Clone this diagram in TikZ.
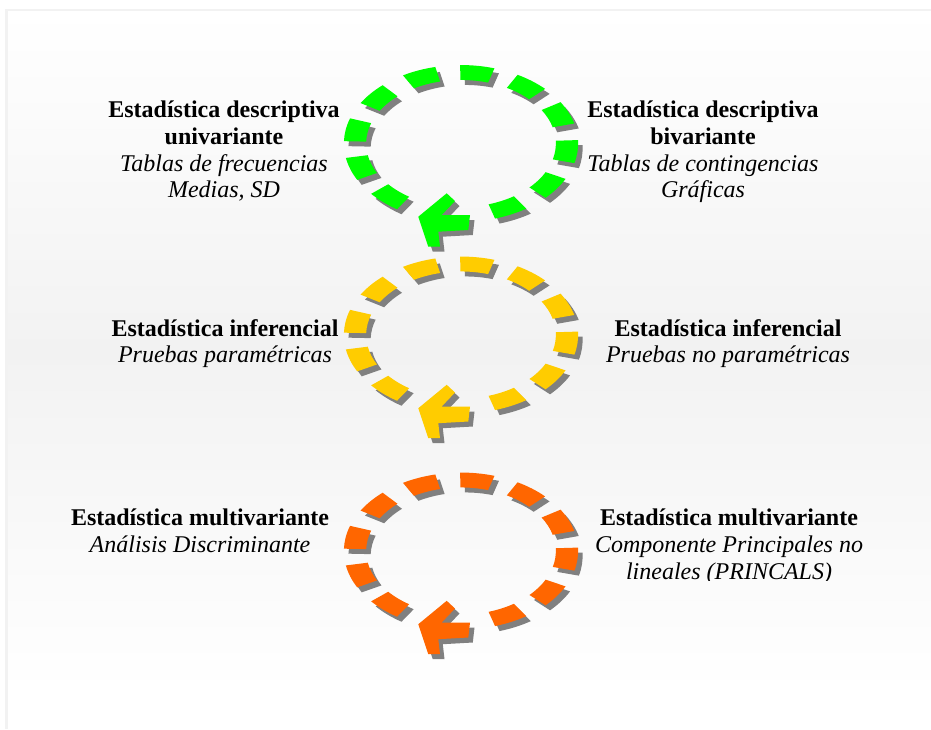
\documentclass[tikz,border=0pt]{standalone}
\usepackage{fontspec}
\setmainfont{Liberation Serif}
\definecolor{ringgreen}{RGB}{0,255,0}
\definecolor{ringyellow}{RGB}{255,204,0}
\definecolor{ringorange}{RGB}{255,102,0}
\definecolor{dropshadow}{RGB}{128,128,128}
\definecolor{framegray}{RGB}{242,242,242}
\begin{document}
\begin{tikzpicture}[x=1pt,y=-1pt,
  textblock/.style={align=center, inner sep=0pt, anchor=north,
    font=\fontsize{24}{26.6}\selectfont},
  ]
% dashed ring: eleven dashes on a squashed circle plus a bold arrow head
\newcommand\ringdashes[1]{%
  \begin{scope}[xscale=106,yscale=71]
    \foreach \a in {131.6,160.9,190.2,219.5,248.8,278.1,307.4,336.7,366.0,395.3,424.6}{
      \fill[#1] (\a-8.5:0.895) arc[start angle=\a-8.5, end angle=\a+8.5, radius=0.895]
        -- (\a+8.5:1.105) arc[start angle=\a+8.5, end angle=\a-8.5, radius=1.105] -- cycle;
    }
  \end{scope}
  \fill[#1] (-42.7,73.2) -- (-14.3,49.8) -- (-6,57.5) -- (-19.3,71.5) -- (9,71.5)
    -- (7.3,86.5) -- (-22.7,88.2) -- (-21,103.2) -- (-32.7,103.2) -- cycle;
}
\newcommand\cyclering[2]{% #1 = centre, #2 = colour
  \begin{scope}[shift={#1}]
    \begin{scope}[shift={(4.5,5)}]\ringdashes{dropshadow}\end{scope}
    \ringdashes{#2}
  \end{scope}
}
\useasboundingbox (0,0) rectangle (931,729);
% page background with a thin frame and a soft grey band
\fill[white] (0,0) rectangle (931,729);
\fill[framegray] (5,9) rectangle (931,729);
\shade[top color=white,bottom color=white,middle color=framegray] (8,11) rectangle (931,692);
\fill[white] (8,692) rectangle (931,729);

% the three cycles
\cyclering{(461,143.5)}{ringgreen}
\cyclering{(461,335)}{ringyellow}
\cyclering{(461,551)}{ringorange}

% labels
\node[textblock] (descuni) at (224,101) {\textbf{Estadística descriptiva}\\\textbf{univariante}\\\textit{Tablas de frecuencias}\\\textit{Medias, SD}};
\node[textblock] (descbi) at (703,101) {\textbf{Estadística descriptiva}\\\textbf{bivariante}\\\textit{Tablas de contingencias}\\\textit{Gráficas}};
\node[textblock] (infpar) at (225,319) {\textbf{Estadística inferencial}\\\textit{Pruebas paramétricas}};
\node[textblock] (infnopar) at (728,319) {\textbf{Estadística inferencial}\\\textit{Pruebas no paramétricas}};
\node[textblock] (multidisc) at (200,509) {\textbf{Estadística multivariante}\\\textit{Análisis Discriminante}};
\begin{scope}
  \clip (560,480) rectangle (910,580);
  \node[textblock] (multiprin) at (729,509) {\textbf{Estadística multivariante}\\\textit{Componente Principales no}\\\textit{lineales (PRINCALS)}};
\end{scope}
\end{tikzpicture}
\end{document}
